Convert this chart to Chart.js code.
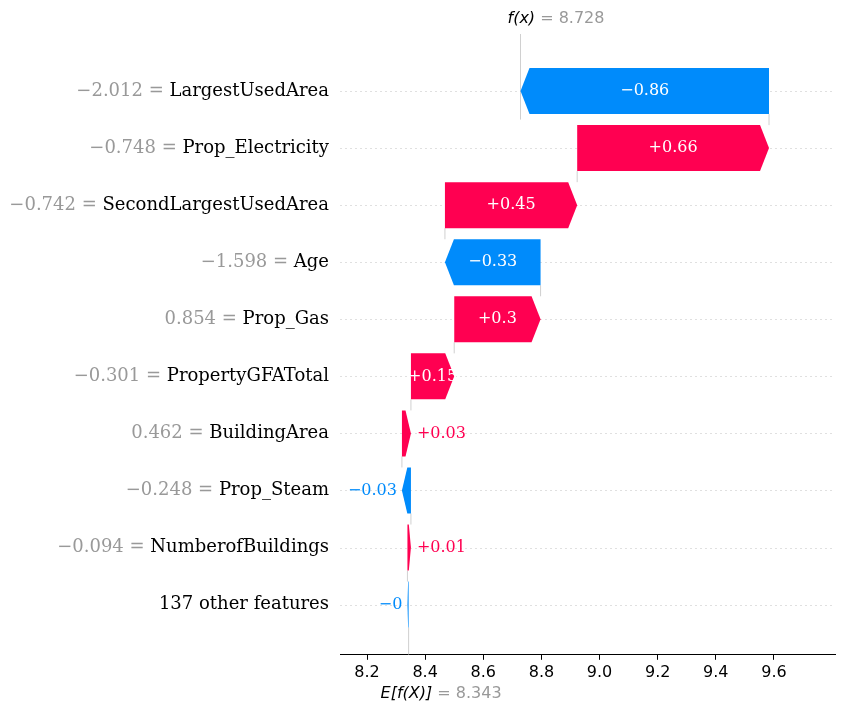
<!DOCTYPE html>
<html><head><meta charset="utf-8">
<script src="https://cdn.jsdelivr.net/npm/chart.js@4/dist/chart.umd.min.js"></script>
<style>html,body{margin:0;padding:0;background:#fff}#w{width:845px;height:715px}</style>
</head><body><div id="w"><canvas id="c"></canvas></div>
<script>
const features = ["LargestUsedArea","Prop_Electricity","SecondLargestUsedArea","Age","Prop_Gas","PropertyGFATotal","BuildingArea","Prop_Steam","NumberofBuildings","137 other features"];
const featureValues = ["\u22122.012","\u22120.748","\u22120.742","\u22121.598","0.854","\u22120.301","0.462","\u22120.248","\u22120.094",""];
const shapValues = [-0.855,0.66,0.455,-0.329,0.297,0.149,0.031,-0.031,0.012,-0.004];
const shapLabels = ["\u22120.86","+0.66","+0.45","\u22120.33","+0.3","+0.15","+0.03","\u22120.03","+0.01","\u22120"];
const baseValue = 8.343;
const fxValue = 8.728;
const xTicks = [8.2,8.4,8.6,8.8,9.0,9.2,9.4,9.6];
const RED="#ff0051", BLUE="#008bfb";

const ranges = new Array(features.length);
let cur = baseValue;
for (let i = features.length-1; i>=0; i--) { ranges[i]=[cur, cur+shapValues[i]]; cur += shapValues[i]; }

const plug = {
  id:'wf',
  beforeDatasetsDraw(ch){
    const {ctx, chartArea:a, scales:{x,y}} = ch;
    ctx.save();
    ctx.strokeStyle="#e0e0e0"; ctx.lineWidth=1; ctx.setLineDash([2,3]);
    features.forEach((f,i)=>{const py=Math.round(y.getPixelForValue(i))+0.5;ctx.beginPath();ctx.moveTo(a.left,py);ctx.lineTo(a.right,py);ctx.stroke();});
    ctx.setLineDash([]);
    ctx.strokeStyle="#bbb"; ctx.lineWidth=0.7;
    const fx=x.getPixelForValue(fxValue);
    ctx.beginPath();ctx.moveTo(fx,a.top-4);ctx.lineTo(fx,y.getPixelForValue(0.5));ctx.stroke();
    const ex=x.getPixelForValue(baseValue);
    ctx.beginPath();ctx.moveTo(ex,y.getPixelForValue(9.4));ctx.lineTo(ex,a.bottom);ctx.stroke();
    for(let i=0;i<features.length-1;i++){
      const px=x.getPixelForValue(ranges[i][0]);
      ctx.beginPath();ctx.moveTo(px,y.getPixelForValue(i)+23);ctx.lineTo(px,y.getPixelForValue(i+1)-23);ctx.stroke();
    }
    ctx.restore();
  },
  afterDatasetsDraw(ch){
    const {ctx, scales:{x,y}} = ch;
    ctx.save();
    features.forEach((f,i)=>{
      const py=y.getPixelForValue(i);
      const pos = shapValues[i]>=0;
      const x0=x.getPixelForValue(ranges[i][0]), x1=x.getPixelForValue(ranges[i][1]);
      const top=py-23, bot=py+23;
      const w=Math.abs(x1-x0);
      const h=Math.min(9,w*0.6);
      const d=pos?1:-1;
      ctx.fillStyle=pos?RED:BLUE;
      ctx.beginPath();ctx.moveTo(x0,top);ctx.lineTo(x1-d*h,top);ctx.lineTo(x1,py);ctx.lineTo(x1-d*h,bot);ctx.lineTo(x0,bot);ctx.closePath();ctx.fill();
      ctx.font="16px 'DejaVu Serif'"; ctx.textBaseline="middle";
      if(w>30){ctx.fillStyle="#fff";ctx.textAlign="center";ctx.fillText(shapLabels[i],(x0+x1)/2,py);}
      else if(pos){ctx.textAlign="left";ctx.fillText(shapLabels[i],Math.max(x0,x1)+6,py);}
      else {ctx.textAlign="right";ctx.fillText(shapLabels[i],Math.min(x0,x1)-5,py);}
      ctx.font="18px 'DejaVu Serif'"; ctx.textAlign="right";
      const lx=329;
      ctx.fillStyle="#000";ctx.fillText(features[i],lx,py);
      if(featureValues[i]){const nw=ctx.measureText(features[i]).width;ctx.fillStyle="#999";ctx.fillText(featureValues[i]+" = ",lx-nw,py);}
    });
    const fx=x.getPixelForValue(fxValue);
    ctx.textBaseline="middle";ctx.textAlign="left";
    ctx.font="italic 16px 'DejaVu Sans'";ctx.fillStyle="#000";
    const w1=ctx.measureText("f(x)").width;
    let sx=fx-13;
    ctx.fillText("f(x)",sx,19);
    ctx.font="16px 'DejaVu Sans'";ctx.fillStyle="#999";ctx.fillText(" = "+fxValue.toFixed(3),sx+w1,19);
    const ex=x.getPixelForValue(baseValue);
    sx=ex-28;
    ctx.font="italic 16px 'DejaVu Sans'";ctx.fillStyle="#000";ctx.fillText("E[f(X)]",sx,694);
    const we=ctx.measureText("E[f(X)]").width;
    ctx.font="16px 'DejaVu Sans'";ctx.fillStyle="#999";ctx.fillText(" = "+baseValue.toFixed(3),sx+we,694);
    ctx.restore();
  }
};

new Chart(document.getElementById('c'),{
  type:'bar',
  data:{datasets:[{data:features.map((f,i)=>({x:ranges[i],y:i})),backgroundColor:'rgba(0,0,0,0)',barThickness:46}]},
  options:{
    indexAxis:'y',responsive:true,maintainAspectRatio:false,animation:false,
    layout:{padding:{left:340,right:10,top:38,bottom:30}},
    plugins:{legend:{display:false},tooltip:{enabled:false}},
    scales:{
      y:{type:'linear',min:-0.93,max:9.88,reverse:true,display:false,offset:false,grace:0},
      x:{type:'linear',min:8.107,max:9.81,
        afterBuildTicks(s){s.ticks=xTicks.map(v=>({value:v}));},
        grid:{drawOnChartArea:false,drawTicks:true,tickLength:5,color:'#000'},
        border:{color:'#000',width:1},
        ticks:{color:'#000',font:{family:'DejaVu Sans',size:16},padding:3,callback:v=>v.toFixed(1)}}
    }
  },
  plugins:[plug]
});
</script></body></html>
